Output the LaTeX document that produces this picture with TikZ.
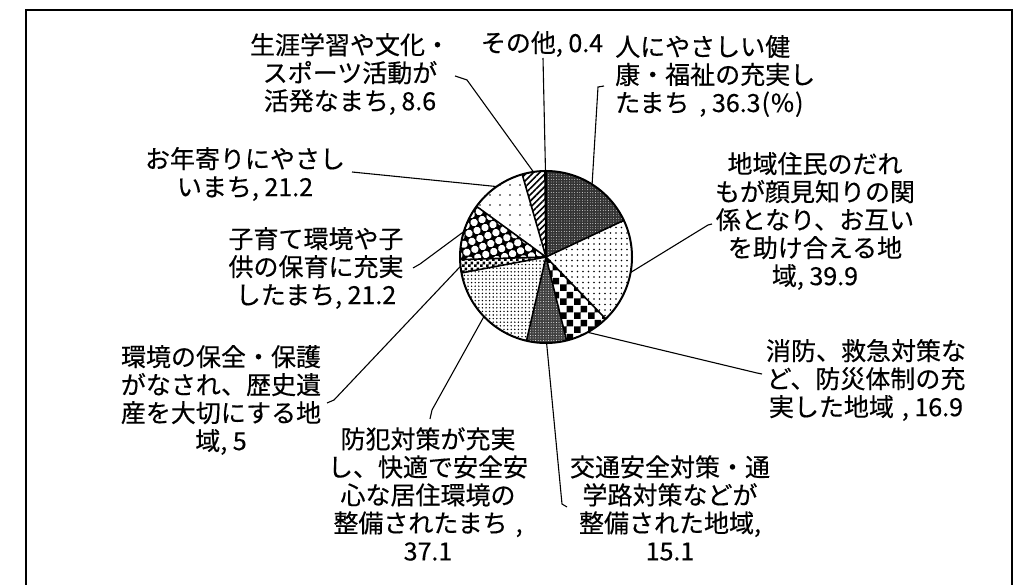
\documentclass[tikz,border=0pt]{standalone}
\usepackage{fontspec}
\newfontfamily\jpfont[FakeBold=0.4]{Noto Sans CJK JP}
\usetikzlibrary{patterns,patterns.meta}
\pgfdeclarepatternformonly{bigchecker}{\pgfpointorigin}{\pgfqpoint{14pt}{14pt}}{\pgfqpoint{14pt}{14pt}}{%
  \pgfpathrectangle{\pgfpointorigin}{\pgfqpoint{7pt}{7pt}}%
  \pgfpathrectangle{\pgfqpoint{7pt}{7pt}}{\pgfqpoint{7pt}{7pt}}%
  \pgfusepath{fill}}
\pgfdeclarepatternformonly{smallchecker}{\pgfpointorigin}{\pgfqpoint{6pt}{6pt}}{\pgfqpoint{6pt}{6pt}}{%
  \pgfpathrectangle{\pgfpointorigin}{\pgfqpoint{3pt}{3pt}}%
  \pgfpathrectangle{\pgfqpoint{3pt}{3pt}}{\pgfqpoint{3pt}{3pt}}%
  \pgfusepath{fill}}
\begin{document}
\begin{tikzpicture}[x=1pt,y=-1pt,
  lbl/.style={font=\jpfont\fontsize{25}{28}\selectfont, align=center, inner sep=0pt},
  leader/.style={line width=1.1pt},
  sep/.style={line width=1.6pt}]
\useasboundingbox (0,0) rectangle (1019,585);
\fill[white] (0,0) rectangle (1019,585);
\draw[line width=2pt] (26,586) -- (26,10) -- (1012,10) -- (1012,586);

\begin{scope}[shift={(546,257)}, y=1pt]
  % 36.3 dark
  \path[fill=black!80, postaction={pattern={Dots[radius=0.45pt,distance=2.6pt]}, pattern color=white}]
    (0,0) -- (90:86) arc[start angle=90, end angle=25.21, radius=86] -- cycle;
  % 39.9 dots
  \path[fill=white, postaction={pattern={Dots[radius=0.9pt,distance=5.5pt]}, pattern color=black}]
    (0,0) -- (25.21:86) arc[start angle=25.21, end angle=-46.0, radius=86] -- cycle;
  % 16.9 checker
  \path[fill=white, postaction={pattern=bigchecker, pattern color=black}]
    (0,0) -- (-46.0:86) arc[start angle=-46.0, end angle=-76.17, radius=86] -- cycle;
  % 15.1 dark
  \path[fill=black!75, postaction={pattern={Dots[radius=0.5pt,distance=2.6pt]}, pattern color=white}]
    (0,0) -- (-76.17:86) arc[start angle=-76.17, end angle=-103.12, radius=86] -- cycle;
  % 37.1 fine dots
  \path[fill=white, postaction={pattern={Dots[radius=0.8pt,distance=3.6pt]}, pattern color=black}]
    (0,0) -- (-103.12:86) arc[start angle=-103.12, end angle=-169.34, radius=86] -- cycle;
  % 5 small checker
  \path[fill=white, postaction={pattern=smallchecker, pattern color=black}]
    (0,0) -- (-169.34:86) arc[start angle=-169.34, end angle=-178.26, radius=86] -- cycle;
  % 21.2 bubbles
  \path[fill=black, postaction={pattern={Dots[radius=3.7pt,distance=8.5pt,angle=20]}, pattern color=white}]
    (0,0) -- (-178.26:86) arc[start angle=-178.26, end angle=-216.10, radius=86] -- cycle;
  % 21.2 sparse dots
  \path[fill=white, postaction={pattern={Dots[radius=0.9pt,distance=10pt]}, pattern color=black}]
    (0,0) -- (-216.10:86) arc[start angle=-216.10, end angle=-253.94, radius=86] -- cycle;
  % 8.6 stripes
  \path[fill=white, postaction={pattern={Lines[angle=45,distance=4.5pt,line width=1.6pt]}, pattern color=black}]
    (0,0) -- (-253.94:86) arc[start angle=-253.94, end angle=-269.29, radius=86] -- cycle;
  % separators
  \foreach \a in {90,25.21,-46.0,-76.17,-103.12,-169.34,-178.26,-216.10,-253.94,-269.29}
    \draw[sep] (0,0) -- (\a:86);
  \draw[line width=2pt] (0,0) circle[radius=86];
  % leader ends on the rim
  \coordinate (e0) at (57.6:86);
  \coordinate (e1) at (-10.4:86);
  \coordinate (e2) at (-61.1:86);
  \coordinate (e3) at (-89.6:86);
  \coordinate (e4) at (-136.2:86);
  \coordinate (e5) at (-173.8:86);
  \coordinate (e6) at (-197.2:86);
  \coordinate (e7) at (-235.0:86);
  \coordinate (e8) at (-261.6:86);
  \coordinate (e9) at (-269.65:86);
\end{scope}

% labels
\node[lbl] (l9) at (542,44) {その他, 0.4};
\node[lbl] (l8) at (350,74) {生涯学習や文化・\\スポーツ活動が\\活発なまち, 8.6};
\node[lbl, align=left, anchor=west] (l0) at (615,76) {人にやさしい健\\康・福祉の充実し\\たまち\hspace{10pt}, 36.3\kern1pt(\kern1pt\%\kern1pt)};
\node[lbl] (l7) at (245,174) {お年寄りにやさし\\いまち, 21.2};
\node[lbl] (l1) at (815,221) {地域住民のだれ\\もが顔見知りの関\\係となり、お互い\\を助け合える地\\域, 39.9};
\node[lbl] (l6) at (316,268) {子育て環境や子\\供の保育に充実\\したまち, 21.2};
\node[lbl] (l2) at (866,380) {消防、救急対策な\\ど、防災体制の充\\実した地域\hspace{8pt}, 16.9};
\node[lbl] (l5) at (221,400) {環境の保全・保護\\がなされ、歴史遺\\産を大切にする地\\域, 5};
\node[lbl] (l4) at (428,494) {防犯対策が充実\\し、快適で安全安\\心な居住環境の\\整備されたまち\hspace{8pt},\\37.1};
\node[lbl] (l3) at (670,508) {交通安全対策・通\\学路対策などが\\整備された地域,\\15.1};

% leader free ends
\coordinate (t9) at (543,58);
\coordinate (t8a) at (467,80); \coordinate (t8b) at (455,76);
\coordinate (t0a) at (598,87); \coordinate (t0b) at (604,86);
\coordinate (t7) at (352,172);
\coordinate (t6a) at (420,264); \coordinate (t6b) at (413,268);
\coordinate (t5a) at (334,400); \coordinate (t5b) at (327,403);
\coordinate (t4a) at (432,410); \coordinate (t4b) at (430,419);
\coordinate (t3a) at (562,504); \coordinate (t3b) at (567,507);
\coordinate (t2a) at (757,373); \coordinate (t2b) at (762,374);
\coordinate (t1a) at (708,225); \coordinate (t1b) at (712,224);

\draw[leader] (e9) -- (t9);
\draw[leader] (e8) -- (t8a) -- (t8b);
\draw[leader] (e0) -- (t0a) -- (t0b);
\draw[leader] (e7) -- (t7);
\draw[leader] (e6) -- (t6a) -- (t6b);
\draw[leader] (e5) -- (t5a) -- (t5b);
\draw[leader] (e4) -- (t4a) -- (t4b);
\draw[leader] (e3) -- (t3a) -- (t3b);
\draw[leader] (e2) -- (t2a) -- (t2b);
\draw[leader] (e1) -- (t1a) -- (t1b);
\end{tikzpicture}
\end{document}
